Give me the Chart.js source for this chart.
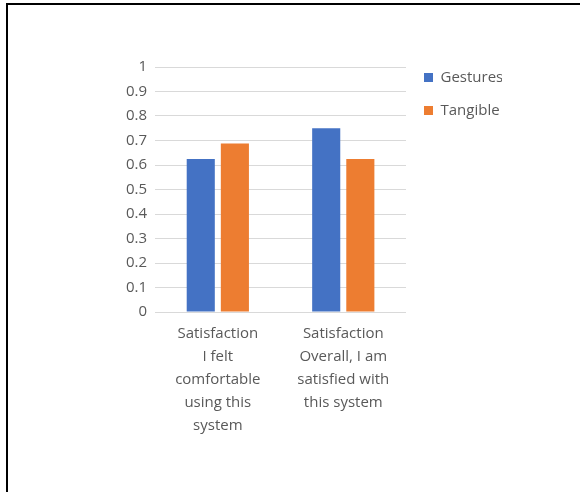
<!DOCTYPE html>
<html>
<head>
<meta charset="utf-8">
<script src="https://cdn.jsdelivr.net/npm/chart.js@4"></script>
<style>
  html, body { margin: 0; padding: 0; background: #fff; }
  #wrap { position: relative; width: 580px; height: 492px; overflow: hidden; }
  #frame { position: absolute; left: 6px; top: 3px; width: 600px; height: 520px;
           border-top: 2px solid #000; border-left: 2px solid #000; }
  canvas { position: absolute; left: 0; top: 0; }
</style>
</head>
<body>
<div id="wrap">
  <div id="frame"></div>
  <canvas id="c" width="580" height="492"></canvas>
</div>
<script>
const categories = [
  ["Satisfaction", "I felt", "comfortable", "using this", "system"],
  ["Satisfaction", "Overall, I am", "satisfied with", "this system"]
];
const seriesNames = ["Gestures", "Tangible"];
const gesturesValues = [0.625, 0.75];
const tangibleValues = [0.6875, 0.625];
const yTicks = [0, 0.1, 0.2, 0.3, 0.4, 0.5, 0.6, 0.7, 0.8, 0.9, 1];
const yTickLabels = ["0", "0.1", "0.2", "0.3", "0.4", "0.5", "0.6", "0.7", "0.8", "0.9", "1"];

const FONT = "'Open Sans', 'DejaVu Sans', sans-serif";
const TEXT = '#595959';

new Chart(document.getElementById('c'), {
  type: 'bar',
  data: {
    labels: categories,
    datasets: [
      { label: seriesNames[0], data: gesturesValues, backgroundColor: '#4472C4',
        categoryPercentage: 0.544, barPercentage: 0.8235 },
      { label: seriesNames[1], data: tangibleValues, backgroundColor: '#ED7D31',
        categoryPercentage: 0.544, barPercentage: 0.8235 }
    ]
  },
  options: {
    responsive: false,
    animation: false,
    devicePixelRatio: 1,
    layout: { padding: { left: 118, top: 52, right: 78, bottom: 45 } },
    scales: {
      x: {
        grid: { display: false, drawTicks: false },
        border: { display: false },
        ticks: { color: TEXT, font: { family: FONT, size: 15, lineHeight: '23px' },
                 padding: 10, maxRotation: 0, autoSkip: false }
      },
      y: {
        min: 0, max: 1,
        afterBuildTicks: (s) => { s.ticks = yTicks.map(v => ({ value: v })); },
        grid: { color: '#d9d9d9', drawTicks: false, lineWidth: 1 },
        border: { display: false },
        ticks: { color: TEXT, font: { family: FONT, size: 15 }, padding: 8,
                 callback: (v, i) => yTickLabels[i] }
      }
    },
    plugins: {
      title: { display: true, text: ' ', fullSize: false, padding: 0,
               font: { size: 12, lineHeight: '15px' } },
      legend: {
        position: 'right', align: 'start',
        labels: { boxWidth: 9, boxHeight: 9, padding: 18, color: TEXT,
                  font: { family: FONT, size: 15 } }
      },
      tooltip: { enabled: false }
    }
  }
});
</script>
</body>
</html>
